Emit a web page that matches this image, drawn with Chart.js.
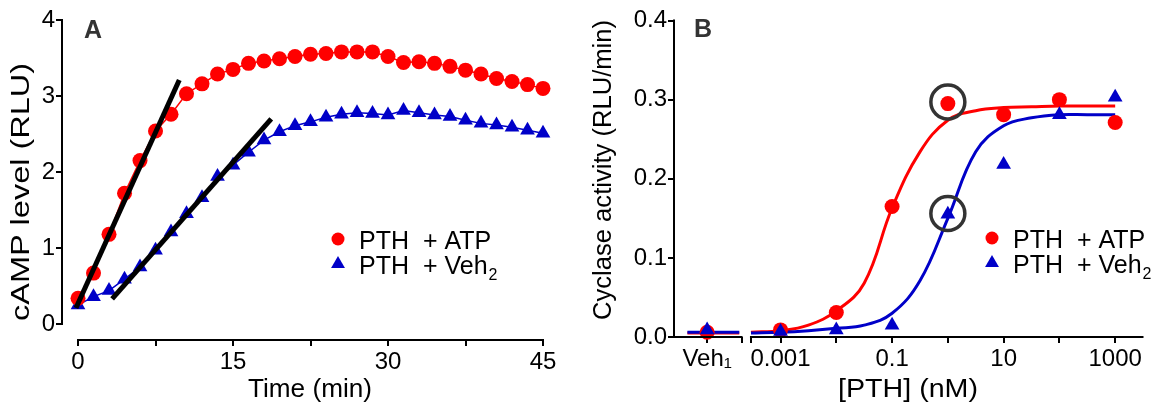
<!DOCTYPE html>
<html>
<head>
<meta charset="utf-8">
<script src="https://cdn.jsdelivr.net/npm/chart.js@4.4.1/dist/chart.umd.min.js"></script>
<style>
  html, body { margin: 0; padding: 0; background: #fff; }
  #wrap { position: relative; width: 1163px; height: 410px; }
  #chartA { position: absolute; left: 0; top: 0; width: 570px; height: 410px; }
  #chartB { position: absolute; left: 580px; top: 0; width: 583px; height: 410px; }
</style>
</head>
<body>
<div id="wrap">
  <canvas id="chartA" width="570" height="410"></canvas>
  <canvas id="chartB" width="583" height="410"></canvas>
</div>
<script>
// ---- Panel A: cAMP level over time ----
const timeMin = [0, 1.5, 3, 4.5, 6, 7.5, 9, 10.5, 12, 13.5, 15, 16.5, 18, 19.5, 21, 22.5,
  24, 25.5, 27, 28.5, 30, 31.5, 33, 34.5, 36, 37.5, 39, 40.5, 42, 43.5, 45];
const campAtp = [0.34, 0.67, 1.18, 1.72, 2.15, 2.54, 2.76, 3.03, 3.16, 3.29, 3.35, 3.43, 3.46, 3.49, 3.52, 3.55,
  3.56, 3.58, 3.58, 3.58, 3.52, 3.44, 3.45, 3.43, 3.39, 3.34, 3.29, 3.23, 3.19, 3.15, 3.10];
const campVeh = [0.25, 0.36, 0.44, 0.59, 0.75, 0.97, 1.21, 1.45, 1.66, 1.94, 2.09, 2.26, 2.42, 2.53, 2.61, 2.66,
  2.72, 2.76, 2.78, 2.77, 2.75, 2.81, 2.78, 2.75, 2.73, 2.68, 2.64, 2.62, 2.59, 2.55, 2.51];
// initial-rate lines (end points)
const slopeAtp = [{ x: -0.2, y: 0.21 }, { x: 9.8, y: 3.21 }];
const slopeVeh = [{ x: 3.3, y: 0.33 }, { x: 18.7, y: 2.70 }];
const timeTicks = [0, 7.5, 15, 22.5, 30, 37.5, 45];
const timeLabels = ["0", "", "15", "", "30", "", "45"];
const campTicks = [0, 1, 2, 3, 4];

// ---- Panel B: cyclase activity vs [PTH] ----
const VEH1 = 0.0000483;        // where the vehicle column sits on the log axis
const pthConc = [VEH1, 0.001, 0.01, 0.1, 1, 10, 100, 1000];
const cycAtp = [0.006, 0.009, 0.031, 0.165, 0.295, 0.281, 0.300, 0.271];
const cycVeh = [0.009, 0.007, 0.009, 0.015, 0.155, 0.218, 0.281, 0.303];
// fitted curves
const curveConc = [0.000295, 0.001, 0.00316, 0.01, 0.0316, 0.1, 0.316, 1, 3.16, 10, 31.6, 100, 316, 1000];
const curveAtp = [0.006, 0.008, 0.015, 0.033, 0.068, 0.163, 0.234, 0.274, 0.286, 0.290, 0.291, 0.292, 0.292, 0.292];
const curveVeh = [0.005, 0.006, 0.008, 0.011, 0.015, 0.030, 0.071, 0.150, 0.234, 0.267, 0.277, 0.281, 0.281, 0.281];
const vehBaseConc = [0.0000214, 0.000182];
const vehBaseAtp = [0.005, 0.005];
const vehBaseVeh = [0.006, 0.006];
const circled = [{ x: 1, y: 0.297 }, { x: 1, y: 0.156 }];
const pthTicks = [VEH1, 0.0002, 0.000295, 0.001, 0.01, 0.1, 1, 10, 100, 1000];
const pthLabels = ["Veh\u2081", "", "", "0.001", "", "0.1", "", "10", "", "1000"];
const cycTicks = [0, 0.1, 0.2, 0.3, 0.4];

const FONT = "'Liberation Sans', Arial, Helvetica, sans-serif";
const RED = "#ff0000";
const BLUE = "#0000c8";

function pts(xs, ys) { return xs.map((x, i) => ({ x: x, y: ys[i] })); }

function marker(ctx, kind, x, y, r, color) {
  ctx.fillStyle = color;
  ctx.beginPath();
  if (kind === "circle") {
    ctx.arc(x, y, r, 0, Math.PI * 2);
  } else {
    ctx.moveTo(x, y - r);
    ctx.lineTo(x + r * 0.866, y + r * 0.5);
    ctx.lineTo(x - r * 0.866, y + r * 0.5);
    ctx.closePath();
  }
  ctx.fill();
}

function title(ctx, t, rotated) {
  ctx.save();
  ctx.translate(t.x, t.y);
  if (rotated) ctx.rotate(-Math.PI / 2);
  ctx.font = t.size + "px " + FONT;
  ctx.fillStyle = "#000";
  ctx.textAlign = "center";
  ctx.textBaseline = "alphabetic";
  const w = ctx.measureText(t.text).width;
  ctx.scale(t.length / w, 1);
  ctx.fillText(t.text, 0, 0);
  ctx.restore();
}

// axis lines, titles, panel letter and legend
const decor = {
  id: "decor",
  afterDraw(chart, args, o) {
    const ctx = chart.ctx;
    const xs = chart.scales.x, ys = chart.scales.y;
    const area = chart.chartArea;
    ctx.save();
    ctx.strokeStyle = "#000";
    ctx.lineWidth = 2;
    ctx.lineCap = "square";
    ctx.beginPath();
    ctx.moveTo(area.left, ys.getPixelForValue(o.yLine[0]));
    ctx.lineTo(area.left, ys.getPixelForValue(o.yLine[1]));
    o.xLines.forEach(seg => {
      ctx.moveTo(xs.getPixelForValue(seg[0]), area.bottom);
      ctx.lineTo(xs.getPixelForValue(seg[1]), area.bottom);
    });
    ctx.stroke();

    title(ctx, o.xTitle, false);
    title(ctx, o.yTitle, true);

    ctx.font = "bold 25px " + FONT;
    ctx.fillStyle = "#333";
    ctx.textAlign = "left";
    ctx.fillText(o.letter.text, o.letter.x, o.letter.y);

    o.legend.items.forEach((it, i) => {
      const ly = o.legend.y + i * 25;
      marker(ctx, it.kind, o.legend.x, ly - 10, it.kind === "circle" ? 6.5 : 8, it.color);
      ctx.font = "25px " + FONT;
      ctx.fillStyle = "#000";
      ctx.fillText(it.text, o.legend.x + 21, ly);
      if (it.sub) {
        const w = ctx.measureText(it.text).width;
        ctx.font = "16px " + FONT;
        ctx.fillText(it.sub, o.legend.x + 22 + w, ly + 6);
      }
    });
    ctx.restore();
  }
};

const tickFont = { family: FONT, size: 24 };
const tickGrid = { drawOnChartArea: false, drawTicks: true, tickLength: 6, color: "#000", lineWidth: 2 };

new Chart(document.getElementById("chartA"), {
  type: "scatter",
  data: {
    datasets: [
      { data: slopeAtp, showLine: true, borderColor: "#000", borderWidth: 5, pointRadius: 0, order: 0, clip: false },
      { data: slopeVeh, showLine: true, borderColor: "#000", borderWidth: 5, pointRadius: 0, order: 1, clip: false },
      {
        label: "PTH + ATP", data: pts(timeMin, campAtp), showLine: true, borderColor: RED, borderWidth: 1.5,
        pointStyle: "circle", pointRadius: 7.5, pointBackgroundColor: RED, pointBorderWidth: 0, order: 2, clip: false
      },
      {
        label: "PTH + Veh2", data: pts(timeMin, campVeh), showLine: true, borderColor: BLUE, borderWidth: 1.5,
        pointStyle: "triangle", pointRadius: 8.5, pointBackgroundColor: BLUE, pointBorderWidth: 0, order: 3, clip: false
      }
    ]
  },
  options: {
    responsive: false,
    animation: false,
    events: [],
    layout: { padding: { left: 0, right: 27, top: 20, bottom: 0 } },
    plugins: {
      legend: { display: false },
      tooltip: { enabled: false },
      decor: {
        yLine: [0, 4],
        xLines: [[0, 45]],
        xTitle: { text: "Time (min)", x: 310, y: 397, size: 26, length: 124 },
        yTitle: { text: "cAMP level (RLU)", x: 29, y: 192, size: 26, length: 258 },
        letter: { text: "A", x: 84, y: 38 },
        legend: {
          x: 338, y: 249, items: [
            { kind: "circle", color: RED, text: "PTH  + ATP" },
            { kind: "triangle", color: BLUE, text: "PTH  + Veh", sub: "2" }
          ]
        }
      }
    },
    scales: {
      x: {
        type: "linear", min: -1.55, max: 45,
        afterBuildTicks: s => { s.ticks = timeTicks.map(v => ({ value: v })); },
        afterFit: s => { s.height = 70; },
        grid: tickGrid, border: { display: false },
        ticks: { font: tickFont, color: "#000", padding: 2, autoSkip: false, maxRotation: 0,
          callback: (v, i) => timeLabels[i] }
      },
      y: {
        type: "linear", min: -0.21, max: 4,
        afterBuildTicks: s => { s.ticks = campTicks.map(v => ({ value: v })); },
        afterFit: s => { s.width = 62; },
        grid: tickGrid, border: { display: false },
        ticks: { font: tickFont, color: "#000", padding: 1, callback: v => String(v) }
      }
    }
  },
  plugins: [decor]
});

new Chart(document.getElementById("chartB"), {
  type: "scatter",
  data: {
    datasets: [
      { data: circled, showLine: false, pointStyle: "circle", pointRadius: 17, pointBackgroundColor: "rgba(0,0,0,0)",
        pointBorderColor: "#333333", pointBorderWidth: 3.5, order: 0, clip: false },
      { label: "PTH + Veh2", data: pts(pthConc, cycVeh), showLine: false, pointStyle: "triangle", pointRadius: 8.5,
        pointBackgroundColor: BLUE, pointBorderWidth: 0, order: 1, clip: false },
      { label: "PTH + ATP", data: pts(pthConc, cycAtp), showLine: false, pointStyle: "circle", pointRadius: 7.5,
        pointBackgroundColor: RED, pointBorderWidth: 0, order: 2, clip: false },
      { data: pts(curveConc, curveVeh), showLine: true, borderColor: BLUE, borderWidth: 3, pointRadius: 0,
        tension: 0.4, order: 3, clip: false },
      { data: pts(curveConc, curveAtp), showLine: true, borderColor: RED, borderWidth: 3, pointRadius: 0,
        tension: 0.4, order: 4, clip: false },
      { data: pts(vehBaseConc, vehBaseVeh), showLine: true, borderColor: BLUE, borderWidth: 3, pointRadius: 0, order: 5, clip: false },
      { data: pts(vehBaseConc, vehBaseAtp), showLine: true, borderColor: RED, borderWidth: 3, pointRadius: 0, order: 6, clip: false }
    ]
  },
  options: {
    responsive: false,
    animation: false,
    events: [],
    layout: { padding: { left: 0, right: 10, top: 17, bottom: 0 } },
    plugins: {
      legend: { display: false },
      tooltip: { enabled: false },
      decor: {
        yLine: [0, 0.4],
        xLines: [[0.0000123, 0.0002], [0.000295, 3090]],
        xTitle: { text: "[PTH] (nM)", x: 328, y: 397, size: 26, length: 140 },
        yTitle: { text: "Cyclase activity (RLU/min)", x: 31, y: 170, size: 26, length: 300 },
        letter: { text: "B", x: 114, y: 37 },
        legend: {
          x: 412, y: 248, items: [
            { kind: "circle", color: RED, text: "PTH  + ATP" },
            { kind: "triangle", color: BLUE, text: "PTH  + Veh", sub: "2" }
          ]
        }
      }
    },
    scales: {
      x: {
        type: "logarithmic", min: 0.0000123, max: 3090,
        afterBuildTicks: s => { s.ticks = pthTicks.map(v => ({ value: v })); },
        afterFit: s => { s.height = 73; },
        grid: tickGrid, border: { display: false },
        ticks: { font: tickFont, color: "#000", padding: 2, autoSkip: false, maxRotation: 0,
          callback: (v, i) => pthLabels[i] }
      },
      y: {
        type: "linear", min: 0, max: 0.4,
        afterBuildTicks: s => { s.ticks = cycTicks.map(v => ({ value: v })); },
        afterFit: s => { s.width = 94; },
        grid: tickGrid, border: { display: false },
        ticks: { font: tickFont, color: "#000", padding: 1, callback: v => v.toFixed(1) }
      }
    }
  },
  plugins: [decor]
});
</script>
</body>
</html>
